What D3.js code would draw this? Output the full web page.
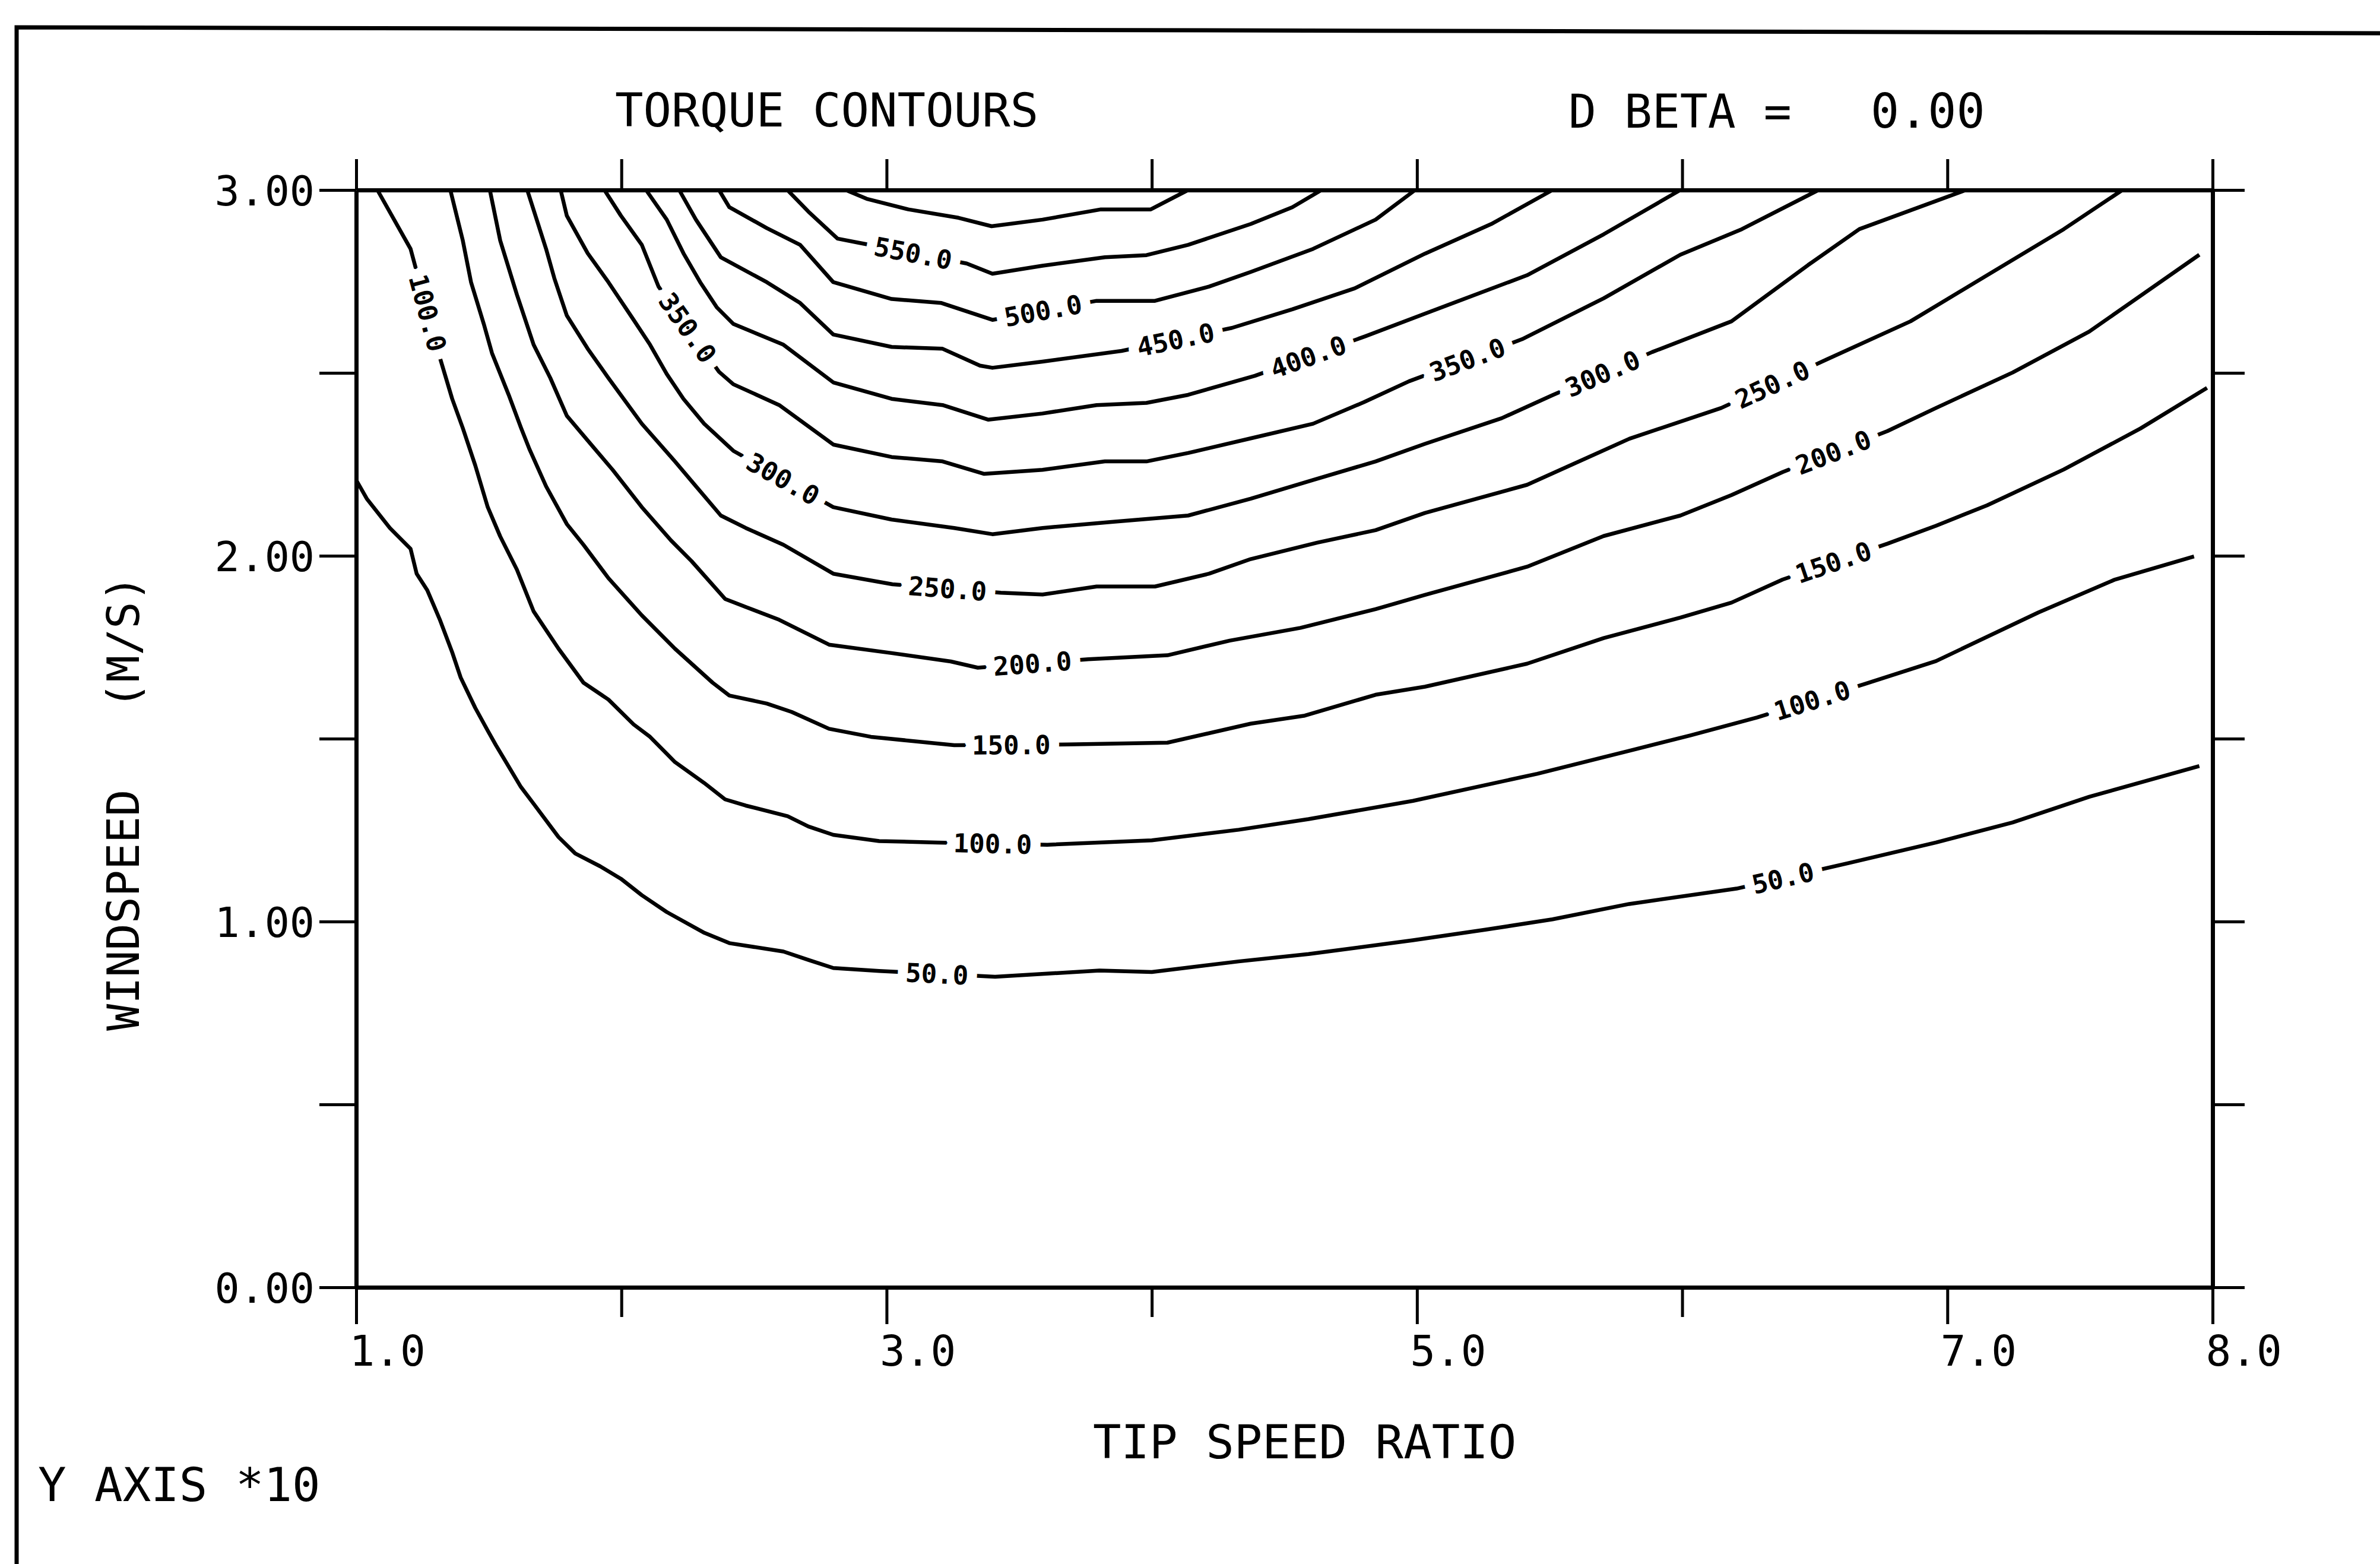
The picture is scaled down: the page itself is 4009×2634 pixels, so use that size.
<!DOCTYPE html>
<html>
<head>
<meta charset="utf-8">
<script src="https://cdn.jsdelivr.net/npm/d3@7"></script>
<style>
  body { margin: 0; background: #fff; }
  svg { display: block; background: #fff; }
  text { font-family: "DejaVu Sans Mono", "Liberation Mono", monospace; fill: #000; }
  .axis path.domain { stroke: #000; stroke-width: 7; }
  .axis line { stroke: #000; stroke-width: 5; }
  .axis text { font-size: 71px; }
  .contour { fill: none; stroke: #000; stroke-width: 6.5; stroke-linejoin: round; }
  .clabel { font-size: 44px; font-weight: bold; stroke: #fff; stroke-width: 34; paint-order: stroke; stroke-linejoin: round; }
</style>
</head>
<body>
<svg width="4009" height="2634"></svg>
<script>
// ====== tick values / labels ======
const xMajor = [1, 3, 5, 7, 8];
const xMinor = [2, 4, 6];
const yTicks = [0, 0.5, 1, 1.5, 2, 2.5, 3];

// ====== contour lines: [tip speed ratio, windspeed] ======
const levels = [50, 100, 150, 200, 250, 300, 350, 400, 450, 500, 550, 600];

const c50 = [[1.00,2.207],[1.04,2.156],[1.127,2.076],[1.205,2.019],[1.228,1.951],[1.268,1.906],[1.315,1.826],[1.362,1.736],[1.394,1.667],[1.449,1.584],[1.496,1.522],[1.527,1.482],[1.621,1.368],[1.669,1.322],[1.763,1.231],[1.826,1.186],[1.920,1.151],[1.998,1.117],[2.077,1.072],[2.171,1.026],[2.313,0.969],[2.407,0.941],[2.611,0.918],[2.705,0.895],[2.799,0.873],[2.972,0.865],[3.409,0.849],[3.803,0.866],[4.0,0.862],[4.328,0.891],[4.591,0.911],[4.985,0.949],[5.261,0.978],[5.511,1.006],[5.800,1.048],[6.205,1.090],[6.629,1.160],[6.957,1.216],[7.246,1.271],[7.535,1.341],[7.950,1.425]];
const c100 = [[1.08,3.0],[1.205,2.839],[1.315,2.543],[1.362,2.429],[1.402,2.349],[1.449,2.247],[1.496,2.133],[1.543,2.053],[1.606,1.962],[1.669,1.848],[1.763,1.746],[1.857,1.653],[1.951,1.607],[2.046,1.539],[2.108,1.505],[2.202,1.436],[2.312,1.379],[2.391,1.334],[2.469,1.317],[2.627,1.288],[2.705,1.260],[2.799,1.237],[2.972,1.220],[3.192,1.216],[3.606,1.210],[4.0,1.222],[4.328,1.251],[4.591,1.280],[4.985,1.330],[5.454,1.404],[5.801,1.467],[6.032,1.509],[6.282,1.558],[6.687,1.649],[6.957,1.712],[7.343,1.845],[7.632,1.935],[7.930,1.998]];
const c150 = [[1.355,3.0],[1.402,2.862],[1.433,2.748],[1.481,2.634],[1.512,2.554],[1.575,2.440],[1.622,2.349],[1.653,2.292],[1.716,2.190],[1.794,2.087],[1.857,2.030],[1.951,1.939],[2.077,1.837],[2.202,1.746],[2.344,1.653],[2.407,1.618],[2.548,1.596],[2.642,1.573],[2.783,1.527],[2.941,1.505],[3.255,1.482],[3.682,1.484],[4.059,1.489],[4.373,1.541],[4.577,1.563],[4.844,1.620],[5.030,1.642],[5.415,1.705],[5.704,1.775],[5.993,1.831],[6.186,1.872],[6.379,1.935],[6.774,2.033],[6.957,2.082],[7.150,2.138],[7.439,2.236],[7.728,2.348],[7.979,2.459]];
const c200 = [[1.504,3.0],[1.543,2.862],[1.606,2.714],[1.669,2.577],[1.732,2.486],[1.794,2.383],[1.873,2.315],[1.967,2.235],[2.077,2.133],[2.187,2.042],[2.265,1.985],[2.391,1.882],[2.469,1.860],[2.595,1.825],[2.783,1.757],[3.019,1.734],[3.242,1.711],[3.344,1.694],[3.760,1.717],[4.059,1.728],[4.294,1.768],[4.561,1.803],[4.844,1.854],[5.030,1.893],[5.415,1.970],[5.704,2.054],[5.993,2.110],[6.186,2.166],[6.379,2.229],[6.774,2.341],[6.957,2.404],[7.246,2.501],[7.535,2.613],[7.950,2.823]];
const c250 = [[1.645,3.0],[1.716,2.839],[1.747,2.759],[1.794,2.657],[1.873,2.566],[1.951,2.486],[2.077,2.361],[2.202,2.258],[2.281,2.190],[2.375,2.110],[2.469,2.076],[2.611,2.030],[2.799,1.951],[3.022,1.922],[3.431,1.899],[3.588,1.894],[3.792,1.916],[4.012,1.916],[4.216,1.951],[4.373,1.991],[4.624,2.036],[4.844,2.070],[5.030,2.117],[5.415,2.194],[5.801,2.320],[6.147,2.404],[6.543,2.536],[6.861,2.641],[7.150,2.767],[7.439,2.893],[7.66,3.0]];
const c300 = [[1.771,3.0],[1.794,2.930],[1.873,2.827],[1.951,2.748],[2.046,2.645],[2.108,2.577],[2.171,2.497],[2.234,2.429],[2.312,2.361],[2.422,2.287],[2.799,2.133],[3.019,2.099],[3.255,2.076],[3.399,2.059],[3.588,2.076],[3.855,2.093],[4.137,2.110],[4.373,2.156],[4.608,2.207],[4.844,2.258],[5.030,2.306],[5.319,2.376],[5.511,2.439],[5.887,2.557],[6.186,2.641],[6.475,2.795],[6.668,2.893],[7.07,3.0]];
const c350 = [[1.936,3.0],[1.998,2.930],[2.077,2.850],[2.140,2.736],[2.368,2.503],[2.422,2.469],[2.595,2.412],[2.799,2.304],[3.019,2.270],[3.211,2.258],[3.368,2.224],[3.588,2.235],[3.823,2.258],[3.980,2.258],[4.137,2.281],[4.373,2.321],[4.608,2.361],[4.80,2.42],[4.97,2.477],[5.396,2.592],[5.704,2.704],[5.993,2.823],[6.225,2.893],[6.514,3.0]];
const c400 = [[2.093,3.0],[2.171,2.919],[2.234,2.827],[2.297,2.748],[2.360,2.679],[2.422,2.634],[2.611,2.577],[2.799,2.474],[3.019,2.429],[3.211,2.412],[3.384,2.372],[3.588,2.389],[3.792,2.412],[3.980,2.418],[4.137,2.440],[4.389,2.492],[4.805,2.600],[5.030,2.662],[5.415,2.767],[5.704,2.879],[5.993,3.0]];
const c450 = [[2.218,3.0],[2.281,2.919],[2.375,2.816],[2.548,2.748],[2.674,2.691],[2.799,2.605],[3.019,2.571],[3.211,2.566],[3.352,2.520],[3.399,2.514],[3.588,2.531],[3.886,2.560],[4.302,2.623],[4.530,2.674],[4.765,2.731],[5.030,2.826],[5.280,2.907],[5.511,3.0]];
const c500 = [[2.368,3.0],[2.407,2.953],[2.548,2.896],[2.674,2.850],[2.799,2.748],[3.019,2.702],[3.207,2.691],[3.399,2.645],[3.792,2.697],[4.012,2.697],[4.216,2.736],[4.373,2.776],[4.608,2.839],[4.844,2.919],[4.993,3.0]];
const c550 = [[2.626,3.0],[2.705,2.941],[2.815,2.867],[2.894,2.856],[3.302,2.799],[3.399,2.771],[3.588,2.793],[3.823,2.816],[3.980,2.822],[4.137,2.850],[4.373,2.907],[4.530,2.953],[4.64,3.0]];
const c600 = [[2.846,3.0],[2.925,2.976],[3.082,2.947],[3.271,2.924],[3.396,2.901],[3.588,2.919],[3.808,2.947],[3.996,2.947],[4.137,3.0]];

// where the level labels sit: [level, tip speed ratio]
const labelSpots = [[100,1.27],[350,2.25],[300,2.61],[550,3.10],[500,3.59],[450,4.09],[400,4.59],
  [350,5.19],[300,5.70],[250,6.34],[200,6.57],[150,6.57],[100,6.49],[50,6.38],
  [250,3.23],[200,3.55],[150,3.47],[100,3.40],[50,3.19]];

(function () {
  'use strict';

  const svg = d3.select("svg");
  const contours = [c50, c100, c150, c200, c250, c300, c350, c400, c450, c500, c550, c600]
    .map((pts, i) => ({level: levels[i], pts: pts}));

  //==============SCALES======
  const x = d3.scaleLinear().domain([1, 8]).range([600, 3727]);
  const y = d3.scaleLinear().domain([0, 3]).range([2168, 320]);

  //==============FRAME==============
  svg.append("path")
    .attr("d", "M28,2634 L28,46 L4009,56")
    .attr("fill", "none").attr("stroke", "#000").attr("stroke-width", 7);

  //===============AXES==============================
  const bottom = svg.append("g").attr("class", "axis")
    .attr("transform", `translate(0,${y(0)})`)
    .call(d3.axisBottom(x).tickValues(xMajor).tickSize(62).tickSizeOuter(0)
      .tickFormat(d => d.toFixed(1)));
  bottom.selectAll("text").attr("text-anchor", "start").attr("x", -12).attr("y", 132).attr("dy", 0);
  svg.append("g").attr("class", "axis")
    .attr("transform", `translate(0,${y(0)})`)
    .call(d3.axisBottom(x).tickValues(xMinor).tickSize(50).tickFormat(""))
    .select(".domain").remove();

  svg.append("g").attr("class", "axis")
    .attr("transform", `translate(0,${y(3)})`)
    .call(d3.axisTop(x).tickValues(xMajor.concat(xMinor)).tickSize(52).tickSizeOuter(0).tickFormat(""));

  const left = svg.append("g").attr("class", "axis")
    .attr("transform", `translate(${x(1)},0)`)
    .call(d3.axisLeft(y).tickValues(yTicks).tickSize(62).tickSizeOuter(0)
      .tickFormat(d => Number.isInteger(d) ? d.toFixed(2) : ""));
  left.selectAll("text").attr("x", -70).attr("dy", "0.36em").style("font-size", "70px");

  svg.append("g").attr("class", "axis")
    .attr("transform", `translate(${x(8)},0)`)
    .call(d3.axisRight(y).tickValues(yTicks).tickSize(54).tickSizeOuter(0).tickFormat(""));

  //==============CONTOURS=================
  const line = d3.line().x(d => x(d[0])).y(d => y(d[1]));
  svg.append("g").selectAll("path")
    .data(contours)
    .enter().append("path")
    .attr("class", "contour")
    .attr("d", d => line(d.pts));

  // labels sit on the line, turned along it; white halo breaks the line
  const spots = labelSpots.map(([lev, lx]) => {
    const pts = contours.find(c => c.level === lev).pts;
    let i = 0;
    while (i < pts.length - 2 && pts[i + 1][0] < lx) i++;
    const p0 = pts[i], p1 = pts[i + 1];
    const t = (lx - p0[0]) / (p1[0] - p0[0]);
    const ly = p0[1] + t * (p1[1] - p0[1]);
    const ang = Math.atan2(y(p1[1]) - y(p0[1]), x(p1[0]) - x(p0[0])) * 180 / Math.PI;
    return {lev, sx: x(lx), sy: y(ly), ang};
  });
  svg.append("g").selectAll("text")
    .data(spots)
    .enter().append("text")
    .attr("class", "clabel")
    .attr("text-anchor", "middle")
    .attr("dy", "0.36em")
    .attr("transform", d => `translate(${d.sx},${d.sy}) rotate(${d.ang})`)
    .text(d => d.lev.toFixed(1));

  //==============TITLES=================
  const txt = (s, tx, ty, size) => svg.append("text")
    .attr("x", tx).attr("y", ty).style("font-size", size + "px")
    .style("white-space", "pre").text(s);
  txt("TORQUE CONTOURS", 1036, 213, 79);
  txt("D BETA =", 2642, 215, 78);
  txt("0.00", 3151, 215, 80);
  txt("TIP SPEED RATIO", 1841, 2456, 79);
  txt("Y AXIS *10", 64, 2528, 79);
  svg.append("text")
    .attr("transform", "translate(234,1736) rotate(-90)")
    .style("font-size", "75px").style("white-space", "pre")
    .text("WINDSPEED   (M/S)");
}());
</script>
</body>
</html>
